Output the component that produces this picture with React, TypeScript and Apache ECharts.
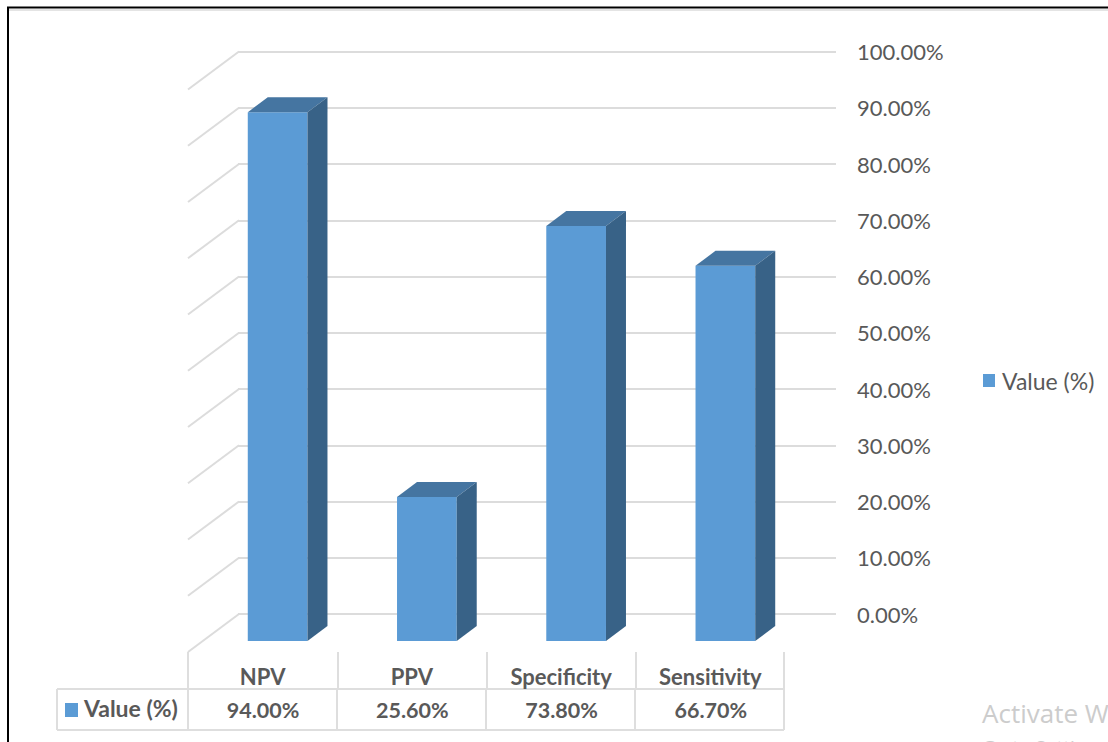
import React, { useEffect, useRef } from "react";
import * as echarts from "echarts";

const categories = ["NPV", "PPV", "Specificity", "Sensitivity"];
const seriesName = "Value (%)";
const seriesValues = [94.0, 25.6, 73.8, 66.7];
const axisTicks = [0, 10, 20, 30, 40, 50, 60, 70, 80, 90, 100];

const FONT = "Lato, Carlito, sans-serif";
const TEXT = "#595959";
const GRID_LINE = "#dcdcdc";
const TABLE_LINE = "#dedede";
const FACE = "#5b9bd5";
const TOP_FACE = "#4575a1";
const SIDE_FACE = "#386287";

// Depth of the box and of the floor, in pixels
const BAR_DX = 20;
const BAR_DY = -15;
const WALL_DX = 51;
const WALL_DY = -38;
const BAR_SHIFT_X = 15;
const BAR_SHIFT_Y = -11;

const percent = (v: number) => `${v.toFixed(2)}%`;

function renderBar(_params: any, api: any) {
  const i = api.value(0);
  const band = api.size([1, 0])[0];
  const half = band * 0.2;
  const top = api.coord([i, api.value(1)]);
  const base = api.coord([i, 0]);
  const xl = top[0] + BAR_SHIFT_X - half;
  const xr = top[0] + BAR_SHIFT_X + half;
  const yt = top[1] + BAR_SHIFT_Y;
  const yb = base[1] + BAR_SHIFT_Y;
  return {
    type: "group",
    children: [
      {
        type: "polygon",
        shape: { points: [[xl, yt], [xr, yt], [xr, yb], [xl, yb]] },
        style: { fill: FACE },
      },
      {
        type: "polygon",
        shape: { points: [[xl, yt], [xr, yt], [xr + BAR_DX, yt + BAR_DY], [xl + BAR_DX, yt + BAR_DY]] },
        style: { fill: TOP_FACE },
      },
      {
        type: "polygon",
        shape: { points: [[xr, yt], [xr + BAR_DX, yt + BAR_DY], [xr + BAR_DX, yb + BAR_DY], [xr, yb]] },
        style: { fill: SIDE_FACE },
      },
    ],
  };
}

// Sloped continuation of each gridline along the left wall
function renderWall(_params: any, api: any) {
  const p = api.coord([0, api.value(0)]);
  const x = p[0] - api.size([1, 0])[0] / 2;
  return {
    type: "line",
    shape: { x1: x, y1: p[1], x2: x + WALL_DX, y2: p[1] + WALL_DY },
    style: { stroke: GRID_LINE, lineWidth: 2 },
  };
}

// Value row of the data table, aligned with the category bands
function renderCell(_params: any, api: any) {
  const p = api.coord([api.value(0), 0]);
  return {
    type: "text",
    x: p[0] + 0.5,
    y: 710,
    style: {
      text: percent(api.value(1)),
      font: `bold 21.5px ${FONT}`,
      fill: TEXT,
      align: "center",
      verticalAlign: "middle",
    },
  };
}

const tableLine = (x1: number, y1: number, x2: number, y2: number) => ({
  type: "line",
  shape: { x1, y1, x2, y2 },
  style: { stroke: TABLE_LINE, lineWidth: 2 },
  silent: true,
});

export default function App() {
  const ref = useRef<HTMLDivElement>(null);

  useEffect(() => {
    document.body.style.margin = "0";
    document.body.style.overflow = "hidden";
    const chart = echarts.init(ref.current!, undefined, { renderer: "svg" });
    chart.setOption({
      animation: false,
      backgroundColor: "#ffffff",
      grid: [
        { left: 238, top: 51.5, width: 598, height: 562.5 },
        { left: 188, top: 89.5, width: 597, height: 562.5 },
      ],
      xAxis: [
        { gridIndex: 0, type: "category", data: categories, show: false },
        {
          gridIndex: 1,
          type: "category",
          data: categories,
          axisLine: { show: false },
          axisTick: { show: false },
          axisLabel: {
            margin: 13,
            interval: 0,
            color: TEXT,
            fontFamily: FONT,
            fontSize: 22,
            fontWeight: "bold",
          },
        },
      ],
      yAxis: [
        {
          gridIndex: 0,
          type: "value",
          position: "right",
          min: 0,
          max: 100,
          interval: 10,
          axisLine: { show: false },
          axisTick: { show: false },
          splitLine: { lineStyle: { color: GRID_LINE, width: 2 } },
          axisLabel: {
            margin: 21,
            color: TEXT,
            fontFamily: FONT,
            fontSize: 22,
            formatter: (v: number) => percent(v),
          },
        },
        { gridIndex: 1, type: "value", min: 0, max: 100, interval: 10, show: false },
      ],
      legend: {
        left: 978,
        top: 364,
        icon: "rect",
        itemWidth: 12,
        itemHeight: 13,
        itemGap: 0,
        data: [seriesName],
        textStyle: { color: TEXT, fontFamily: FONT, fontSize: 23, padding: [0, 0, 0, 2] },
      },
      series: [
        {
          type: "custom",
          xAxisIndex: 1,
          yAxisIndex: 1,
          renderItem: renderWall,
          data: axisTicks.map((t) => [t]),
          encode: { y: 0 },
          silent: true,
          z: 1,
        },
        {
          type: "custom",
          name: seriesName,
          xAxisIndex: 1,
          yAxisIndex: 1,
          itemStyle: { color: FACE },
          renderItem: renderBar,
          data: seriesValues.map((v, i) => [i, v]),
          encode: { x: 0, y: 1 },
          z: 3,
        },
        {
          type: "custom",
          xAxisIndex: 1,
          yAxisIndex: 1,
          renderItem: renderCell,
          data: seriesValues.map((v, i) => [i, v]),
          encode: { x: 0, y: 1 },
          silent: true,
          z: 4,
        },
      ],
      graphic: [
        // Frame of the captured window
        { type: "line", shape: { x1: 7, y1: 7.5, x2: 1108, y2: 7.5 }, style: { stroke: "#000000", lineWidth: 2 } },
        { type: "line", shape: { x1: 8, y1: 7, x2: 8, y2: 742 }, style: { stroke: "#000000", lineWidth: 2 } },
        { type: "line", shape: { x1: 9, y1: 10, x2: 1108, y2: 10 }, style: { stroke: "#e4e4e4", lineWidth: 2 } },
        // Data table rules
        tableLine(57, 689, 784, 689),
        tableLine(57, 730, 784, 730),
        tableLine(57, 689, 57, 730),
        tableLine(188, 652, 188, 730),
        tableLine(338, 652, 338, 689),
        tableLine(337, 689, 337, 730),
        tableLine(487, 652, 487, 689),
        tableLine(486, 689, 486, 730),
        tableLine(636, 652, 636, 689),
        tableLine(635, 689, 635, 730),
        tableLine(784, 652, 784, 730),
        // Legend key inside the table
        { type: "rect", shape: { x: 65, y: 703, width: 13, height: 14 }, style: { fill: FACE } },
        {
          type: "text",
          x: 84,
          y: 708,
          style: {
            text: seriesName,
            font: `bold 23px ${FONT}`,
            fill: TEXT,
            verticalAlign: "middle",
          },
        },
        // Desktop watermark, cut off at the window edge
        {
          type: "text",
          x: 982,
          y: 713,
          style: {
            text: "Activate Windows",
            font: `26px "Open Sans", sans-serif`,
            fill: "#cccccc",
            verticalAlign: "middle",
          },
        },
        {
          type: "text",
          x: 982,
          y: 747,
          style: {
            text: "Go to Settings to activate Windows.",
            font: `19px "Open Sans", sans-serif`,
            fill: "#cccccc",
            verticalAlign: "middle",
          },
        },
      ],
    });
    return () => chart.dispose();
  }, []);

  return <div ref={ref} style={{ width: 1108, height: 742 }} />;
}
